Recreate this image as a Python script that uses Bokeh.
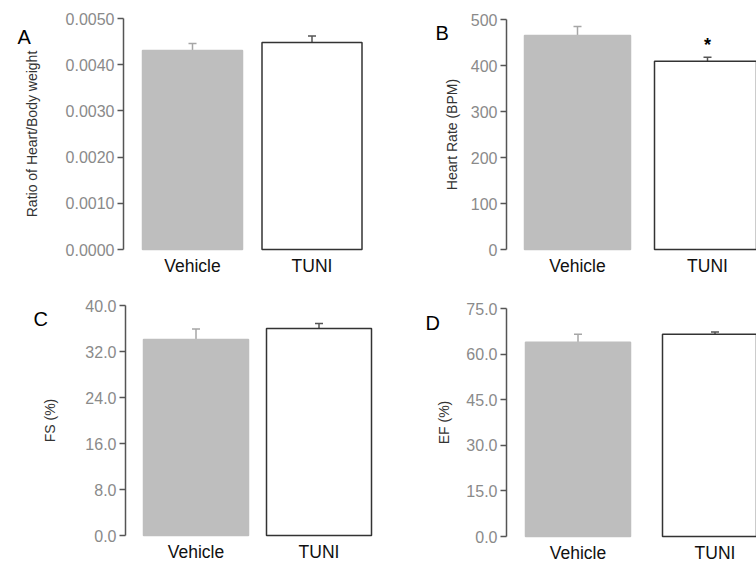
from bokeh.plotting import figure
from bokeh.layouts import column, row
from bokeh.models import (Range1d, FixedTicker, PrintfTickFormatter, ColumnDataSource,
                          Whisker, TeeHead, Label)
from bokeh.embed import file_html
from bokeh.resources import INLINE
from bokeh.core.properties import value

# ---- data ----
categories = ["Vehicle", "TUNI"]
hw_ratio = [0.00431, 0.00448]
hw_err = [0.00015, 0.00014]
heart_rate = [465, 409]
hr_err = [20, 9]
fs_pct = [34.1, 36.0]
fs_err = [1.8, 0.85]
ef_pct = [63.9, 66.5]
ef_err = [2.6, 0.8]
hw_ticks = [0.0, 0.001, 0.002, 0.003, 0.004, 0.005]
hr_ticks = [0, 100, 200, 300, 400, 500]
fs_ticks = [0.0, 8.0, 16.0, 24.0, 32.0, 40.0]
ef_ticks = [0.0, 15.0, 30.0, 45.0, 60.0, 75.0]
significant = [False, True]

FONT = "Liberation Sans"
fill_colors = ["#bebebe", "#ffffff"]
line_colors = ["#bebebe", "#333333"]
err_colors = ["#a6a6a6", "#555555"]


def make_panel(vals, errs, ticks, fmt, ylabel, letter, width, height,
               axis_px, c1_px, c2_px, bar_px, top_px, zero_px,
               label_standoff, letter_pos, star=None):
    # layout geometry (pixels inside the canvas) -> ranges
    unit = c2_px - c1_px
    x_start = 1 - c1_px / unit
    x_end = 1 + (width - c1_px) / unit
    axis_at = 1 - (c1_px - axis_px) / unit
    bar_w = bar_px / unit
    ymax = ticks[-1]
    per_px = (ymax - ticks[0]) / (zero_px - top_px)
    y_start = ticks[0] - (height - zero_px) * per_px
    y_end = ymax + top_px * per_px

    pos = [i + 1 for i in range(len(categories))]
    p = figure(width=width, height=height, output_backend="svg", toolbar_location=None,
               x_range=Range1d(x_start, x_end), y_range=Range1d(y_start, y_end),
               min_border_left=0, min_border_right=0, min_border_top=0, min_border_bottom=0)
    p.outline_line_color = None
    p.xgrid.grid_line_color = None
    p.ygrid.grid_line_color = None
    p.background_fill_color = "white"
    p.border_fill_color = "white"

    src = ColumnDataSource(dict(x=pos, top=vals, fill=fill_colors, line=line_colors))
    p.vbar(x="x", top="top", bottom=0, width=bar_w, source=src,
           fill_color="fill", line_color="line", line_width=1.5)
    for i in range(len(categories)):
        s = ColumnDataSource(dict(x=[pos[i]], lower=[vals[i]], upper=[vals[i] + errs[i]]))
        w = Whisker(base="x", lower="lower", upper="upper", source=s,
                    line_color=err_colors[i], line_width=1.5,
                    upper_head=TeeHead(size=8, line_color=err_colors[i], line_width=1.5),
                    lower_head=None)
        p.add_layout(w)

    if star is not None:
        sx = [pos[i] for i in range(len(categories)) if star[i]]
        sy = [vals[i] + errs[i] for i in range(len(categories)) if star[i]]
        p.text(x=sx, y=sy, text=["*"] * len(sx), text_align="center",
               text_baseline="alphabetic", y_offset=-12,
               text_font=value(FONT), text_font_size="18px", text_color="black",
               text_font_style="bold")

    # y axis, fixed inside the frame
    ya = p.yaxis[0]
    ya.fixed_location = axis_at
    ya.bounds = (ticks[0], ticks[-1])
    ya.ticker = FixedTicker(ticks=ticks)
    ya.formatter = PrintfTickFormatter(format=fmt)
    ya.axis_line_color = "#555555"
    ya.axis_line_width = 1.5
    ya.major_tick_line_color = "#555555"
    ya.major_tick_line_width = 1.5
    ya.major_tick_out = 6
    ya.major_tick_in = 0
    ya.minor_tick_line_color = None
    ya.major_label_standoff = 3
    ya.major_label_text_font = FONT
    ya.major_label_text_font_size = "16px"
    ya.major_label_text_color = "#8a8a8a"
    ya.axis_label = ylabel
    ya.axis_label_text_font = FONT
    ya.axis_label_text_font_size = "14px"
    ya.axis_label_text_font_style = "normal"
    ya.axis_label_text_color = "#333333"
    ya.axis_label_standoff = label_standoff

    # x axis, fixed at y = 0
    xa = p.xaxis[0]
    xa.fixed_location = 0
    xa.ticker = FixedTicker(ticks=pos)
    xa.major_label_overrides = {pp: c for pp, c in zip(pos, categories)}
    xa.axis_line_color = None
    xa.major_tick_line_color = None
    xa.minor_tick_line_color = None
    xa.major_label_standoff = 0
    xa.major_label_text_font = FONT
    xa.major_label_text_font_size = "17.5px"
    xa.major_label_text_color = "#111111"

    p.add_layout(Label(x=letter_pos[0], y=letter_pos[1], x_units="screen",
                       y_units="screen",
                       text=letter, text_font=FONT, text_font_size="20px",
                       text_color="black", text_baseline="alphabetic"))
    return p


pA = make_panel(hw_ratio, hw_err, hw_ticks, "%.4f", "Ratio of Heart/Body weight", "A",
                380, 290, 123, 192, 311.5, 100, 18, 249, 23, (17, 254))
pB = make_panel(heart_rate, hr_err, hr_ticks, "%d", "Heart Rate (BPM)", "B",
                376, 290, 126, 197, 327, 106, 19, 249, 8, (55, 258), star=significant)
pC = make_panel(fs_pct, fs_err, fs_ticks, "%.1f", "FS (%)", "C",
                380, 271, 125, 195.5, 318.5, 105, 15, 245, 24, (33, 243))
pD = make_panel(ef_pct, ef_err, ef_ticks, "%.1f", "EF (%)", "D",
                376, 271, 126, 197.5, 334.5, 105, 18, 246, 11, (45, 239))

layout = column(row(pA, pB), row(pC, pD))
open("out.html", "w").write(file_html(layout, INLINE))
